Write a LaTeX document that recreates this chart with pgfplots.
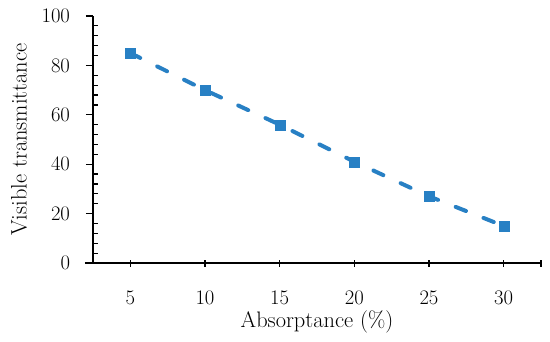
\documentclass[border=0pt]{standalone}
\usepackage{pgfplots}
\pgfplotsset{compat=1.18}
\definecolor{lineblue}{RGB}{40,128,196}
\begin{document}
\begin{tikzpicture}
\useasboundingbox (-93bp,-79bp) rectangle (457bp,263bp);
\begin{axis}[
  at={(0,0)}, anchor=south west,
  scale only axis,
  width=448bp, height=247bp,
  xmin=2.5, xmax=32.5,
  ymin=0, ymax=100,
  axis x line=bottom, axis y line=left,
  axis line style={-, black, line width=1.2bp},
  x axis line style={shorten <=-8bp},
  xtick={5,10,15,20,25,30},
  extra x ticks={32.5},
  extra x tick labels={},
  ytick={0,20,40,60,80,100},
  minor y tick num=4,
  major tick length=7bp,
  minor tick length=5bp,
  every tick/.style={black, line width=1.2bp},
  x tick style={/pgfplots/tick align=center},
  extra x tick style={tick align=center},
  y tick style={/pgfplots/tick align=outside},
  minor y tick style={/pgfplots/tick align=inside},
  tick label style={font=\fontsize{21}{25}\selectfont},
  every x tick label/.style={anchor=base, yshift=-38bp},
  every y tick label/.style={anchor=east, xshift=-16bp},
  every axis x label/.style={at={(axis description cs:0.5,0)}, anchor=base, yshift=-64bp, font=\fontsize{22.5}{26}\selectfont},
  every axis y label/.style={at={(axis description cs:0,0.5)}, rotate=90, anchor=center, yshift=74bp, font=\fontsize{22.5}{26}\selectfont},
  xlabel={Absorptance (\%)},
  ylabel={Visible transmittance},
  clip=false,
]
\addplot[color=lineblue, line width=4bp, dash pattern=on 11bp off 19bp, line cap=round,
  mark=square*, mark size=5bp, mark options={solid, fill=lineblue, draw=lineblue, line width=0.3bp}]
  coordinates {(5,85) (10,70) (15,56) (20,41) (25,27) (30,15)};
\end{axis}
\end{tikzpicture}
\end{document}
